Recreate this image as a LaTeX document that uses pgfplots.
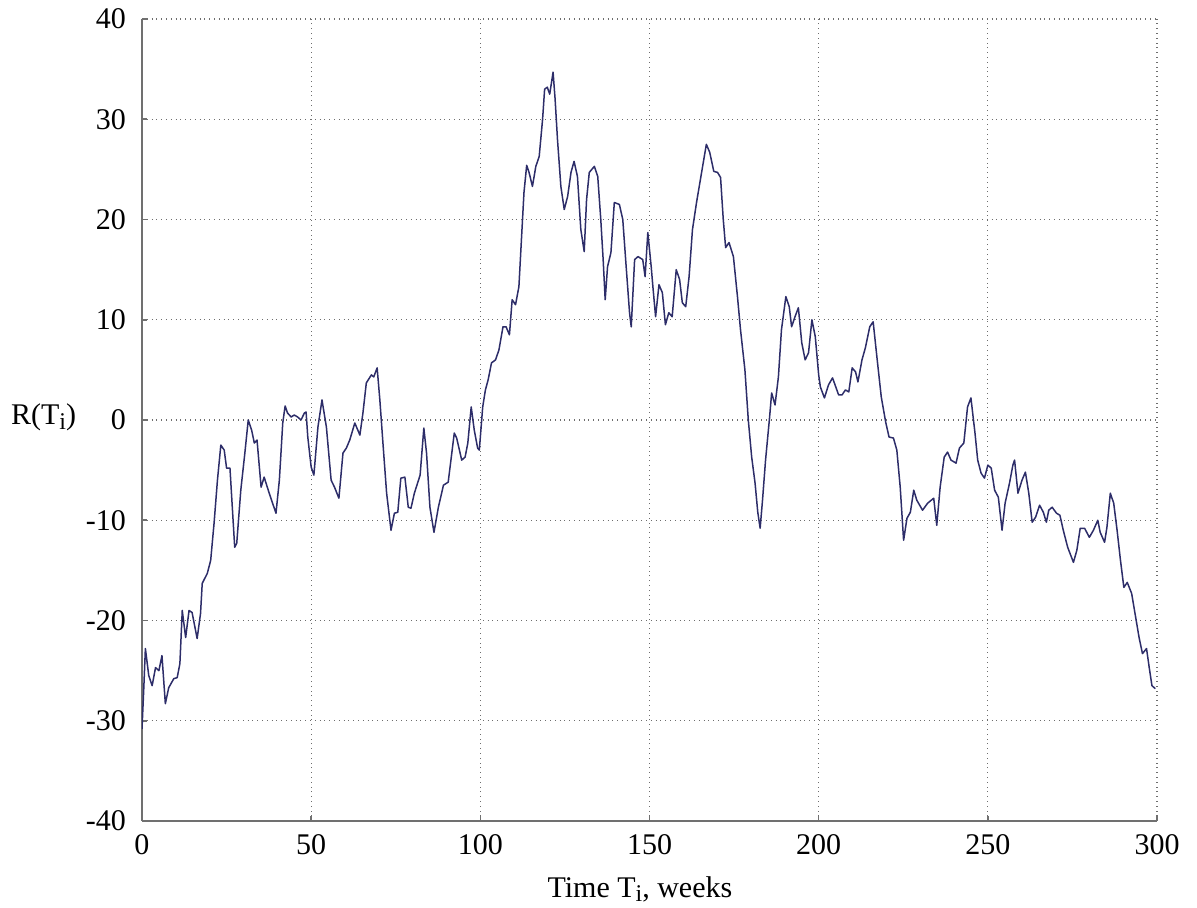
\documentclass[border=0pt]{standalone}
\usepackage{fontspec}
\setmainfont{Liberation Serif}
\usepackage{pgfplots}
\pgfplotsset{compat=1.18}
\usepackage{pgfplotstable}

\definecolor{seriesblue}{RGB}{45,45,105}
\definecolor{axisgray}{RGB}{112,112,112}
\definecolor{gridgray}{RGB}{110,110,110}

\newcommand{\chartfont}{\fontsize{15}{18}\selectfont}

% weekly values of R(T_i)
\pgfplotstableread{
t R
0 -30.8
0.5 -27
1.0 -22.8
2.0 -25.5
3.0 -26.5
4.0 -24.7
5.0 -25
5.9 -23.5
6.9 -28.3
7.9 -26.7
9.4 -25.8
10.4 -25.7
11.2 -24.3
11.9 -19
12.9 -21.7
13.9 -19
14.8 -19.2
16.3 -21.8
17.3 -19.3
17.8 -16.3
19.3 -15.3
20.3 -14
21.3 -10.3
22.3 -6
23.3 -2.5
24.3 -3
25.0 -4.8
26.0 -4.8
27.4 -12.7
28.0 -12.3
29.2 -7
30.4 -3.3
31.4 0
32.4 -1
33.2 -2.3
34.0 -2
35.2 -6.7
36.1 -5.7
37.6 -7.3
39.6 -9.3
40.6 -6
41.6 -0.3
42.3 1.4
43.0 0.7
44.1 0.3
45.0 0.5
46.0 0.3
47.0 0
48.0 0.7
48.5 0.8
49.0 -1.7
50.0 -4.7
50.8 -5.5
52.0 -0.7
53.2 2
54.5 -0.7
55.9 -6
56.9 -6.7
58.2 -7.8
59.4 -3.3
60.4 -2.8
61.4 -2
62.9 -0.3
64.4 -1.5
65.3 0.7
66.3 3.7
67.8 4.5
68.5 4.3
69.5 5.2
70.3 2
71.3 -2.7
72.3 -7.3
73.6 -11
74.6 -9.3
75.6 -9.2
76.5 -5.8
77.7 -5.7
78.7 -8.7
79.5 -8.8
80.5 -7.3
82.2 -5.5
83.3 -0.8
84.1 -3.3
85.1 -8.7
86.3 -11.2
87.6 -8.7
89.1 -6.5
90.5 -6.2
92.3 -1.3
93.0 -1.8
94.5 -4
95.5 -3.7
96.3 -2.3
97.3 1.3
98.2 -1
99.2 -2.8
99.7 -3
100.7 1.3
101.5 3
102.3 4
103.3 5.7
104.5 6
105.5 7
106.7 9.3
107.6 9.3
108.6 8.5
109.4 12
110.4 11.5
111.4 13.3
112.1 17.7
112.9 22.7
113.7 25.4
114.4 24.7
115.4 23.3
116.4 25.3
117.4 26.3
118.4 30
119.0 33
119.8 33.2
120.5 32.5
121.5 34.7
122.1 32
122.8 28
123.8 23.3
124.8 21
125.8 22.3
126.8 24.7
127.7 25.8
128.7 24.3
129.7 19
130.7 16.8
131.4 22
132.2 24.7
133.7 25.3
134.7 24.3
135.6 20
136.3 16
136.9 12
137.6 15.3
138.6 16.7
139.6 21.7
141.1 21.5
142.1 20
143.1 15.3
144.1 10.7
144.6 9.3
145.6 16
146.6 16.3
148.0 16
148.7 14.3
149.5 18.7
150.5 15.3
151.0 13.3
151.8 10.3
152.8 13.5
153.8 12.7
154.7 9.5
155.7 10.7
156.7 10.3
157.9 15
158.9 14
159.7 11.7
160.7 11.3
161.7 14.3
162.7 19
163.9 21.7
165.4 24.7
166.8 27.5
167.8 26.7
169.0 24.8
170.1 24.7
171.0 24.2
171.8 20
172.5 17.2
173.5 17.7
174.8 16.3
176.0 12.3
176.9 9
178.2 5
179.2 0
180.2 -3.7
181.2 -6.3
182.0 -9.2
182.7 -10.8
183.4 -8
184.3 -4
185.5 0.3
186.1 2.7
187.1 1.5
188.1 4.3
189.0 9
190.3 12.3
191.3 11.3
192.0 9.3
193.0 10.3
194.0 11.2
195.0 7.7
196.0 6
197.0 6.7
198.0 10
199.0 8.3
200.0 4.5
200.5 3.3
201.7 2.2
202.9 3.5
204.1 4.2
205.9 2.5
206.9 2.5
207.9 3
208.9 2.8
209.9 5.2
210.9 4.8
211.6 3.8
212.8 6
213.8 7.2
215.1 9.3
216.1 9.8
217.3 6
218.5 2.3
219.8 -0.2
220.8 -1.7
222.1 -1.8
223.1 -3
224.1 -6.7
225.1 -12
226.1 -9.8
227.1 -9.2
228.1 -7
229.0 -8
230.7 -9
232.2 -8.3
234.0 -7.8
234.9 -10.5
235.9 -6.7
237.1 -3.7
238.1 -3.2
239.1 -4
240.6 -4.3
241.6 -2.8
242.9 -2.3
244.0 1.3
245.0 2.2
246.2 -1.3
247.0 -4
248.0 -5.3
249.0 -5.8
250.0 -4.5
251.0 -4.8
252.0 -7
253.1 -7.7
254.2 -11
255.1 -8.3
256.4 -6.3
257.4 -4.5
257.9 -4
258.9 -7.3
260.1 -6
261.1 -5.2
262.1 -7.3
263.1 -10.2
264.1 -9.7
265.3 -8.5
266.4 -9.2
267.3 -10.2
268.0 -9
269.0 -8.7
270.3 -9.3
271.3 -9.5
272.3 -11
273.6 -12.7
275.3 -14.2
276.3 -13
277.3 -10.8
278.6 -10.8
280.0 -11.7
281.2 -11
282.5 -10
283.2 -11.2
284.5 -12.2
285.2 -10.7
286.2 -7.3
287.2 -8.3
288.2 -11
289.2 -14
290.2 -16.7
291.2 -16.2
292.5 -17.3
293.7 -19.7
294.7 -21.7
295.7 -23.3
296.9 -22.8
297.7 -24.7
298.5 -26.5
299.5 -26.8
}\seriesR

\begin{document}
\begin{tikzpicture}
\useasboundingbox (-71pt,-43.5pt) rectangle (527.5pt,410.5pt);
\begin{axis}[
  at={(0,0)}, anchor=south west,
  scale only axis,
  width=507.5pt, height=401pt,
  xmin=0, xmax=300, ymin=-40, ymax=40,
  axis x line*=bottom, axis y line*=left,
  axis line style={-, axisgray, line width=1pt},
  xtick={0,50,...,300}, ytick={-40,-30,...,40},
  xticklabels={0,50,100,150,200,250,300},
  yticklabels={-40,-30,-20,-10,0,10,20,30,40},
  tick align=inside, major tick length=2.5pt,
  tick style={axisgray, line width=0.8pt},
  tick label style={font=\chartfont},
  xticklabel style={yshift=-3pt},
  yticklabel style={xshift=-4.5pt},
  grid=major,
  major grid style={dotted, gridgray, line width=0.6pt},
  xlabel={Time T\raisebox{-0.3ex}{\fontsize{12}{14}\selectfont i}, weeks},
  ylabel={R(T\raisebox{-0.3ex}{\fontsize{12}{14}\selectfont i})},
  label style={font=\chartfont},
  xlabel style={at={(axis description cs:0.4906,0)}, anchor=base, yshift=-38pt},
  ylabel style={at={(axis description cs:-0.097,0.4938)}, rotate=-90, anchor=base},
]
\addplot[seriesblue, line width=0.75pt, line join=round, mark=none] table[x=t, y=R] {\seriesR};
\end{axis}
\end{tikzpicture}
\end{document}
